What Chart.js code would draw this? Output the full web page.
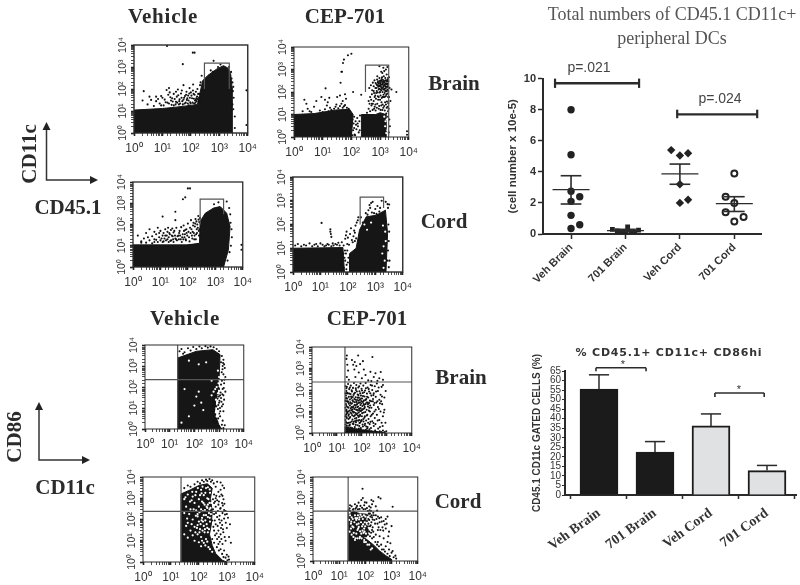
<!DOCTYPE html>
<html>
<head>
<meta charset="utf-8">
<title>CD45.1 CD11c figure</title>
<script src="https://cdn.jsdelivr.net/npm/chart.js@4"></script>
<style>
  html, body { margin: 0; padding: 0; background: #fff; }
  #page { position: relative; width: 800px; height: 585px; overflow: hidden; filter: blur(0.45px); }
  #page canvas { position: absolute; }
  .txt { position: absolute; white-space: nowrap; color: #2b2b2b; transform: translate(-50%, -50%); }
  .big { font: bold 21px "Liberation Serif", serif; }
</style>
</head>
<body>
<div id="page">
  <svg width="800" height="585" style="position:absolute;left:0;top:0">
    <g fill="none" stroke="#333" stroke-width="1.5">
      <path d="M46.5 128V180H92" />
      <path d="M39 408V460H85" />
    </g>
    <g fill="#222">
      <path d="M46.5 122l-4 8h8z" />
      <path d="M98 180l-8 -4v8z" />
      <path d="M39 402l-4 8h8z" />
      <path d="M90 460l-8 -4v8z" />
    </g>
  </svg>
</div>
<script>
// tick labels and categories
const decadeLabels = ['10⁰', '10¹', '10²', '10³', '10⁴'];
const groupNames = ['Veh Brain', '701 Brain', 'Veh Cord', '701 Cord'];

// ---- flow plots, values (dense areas kept as outlines) ----
const massA = [[1,1],[1,11],[10,13],[30,15],[100,18],[170,20],[200,50],[260,240],[400,420],[800,800],[1400,1150],[2000,900],[2500,500],[2800,120],[2800,1],[1,1]];
const gateA = [[300,100],[300,1500],[2240,1500],[2240,100]];
const dotsA = [[3,20],[4,32],[2.2,80],[6,28],[8,22],[9,48],[10,40],[12,33],[14,90],[15,24],[16,55],[18,70],[20,30],[22,38],[25,60],[25,18],[30,26],[32,45],[35,95],[38,20],[40,34],[45,62],[50,28],[55,150],[58,40],[60,22],[70,75],[72,32],[80,50],[85,18],[90,110],[95,25],[110,38],[120,160],[125,60],[130,22],[140,30],[150,75],[165,45],[170,100],[190,28],[200,60],[210,150],[220,200],[150,32],[100,70],[52,1350],[117,4500],[135,4500],[14.5,9000],[630,1900],[240,400],[3100,125],[3500,5.6],[3500,1.7],[9000,87],[9000,2.3],[2900,200],[2700,300],[3000,80],[3200,40],[2900,20],[3100,12],[2600,600],[2200,1000],[900,1000],[1100,1300],[600,600],[500,700],
  [5,17],[7,35],[11,18],[13,25],[17,22],[19,42],[21,19],[23,27],[27,35],[29,20],[33,24],[36,52],[39,28],[42,22],[47,40],[52,20],[55,33],[62,48],[66,24],[75,38],[78,22],[83,30],[88,62],[92,40],[98,22],[105,50],[115,24],[118,85],[128,36],[135,55],[145,24],[155,38],[160,28],[172,35],[180,60],[195,40],[205,25],[68,55],[48,85],[30,75],[17,110],[9,18],[6,45],[2,30],[3.5,45]];

const massB1 = [[1,1],[1,10],[5,11],[30,16],[87,17],[115,10],[100,1],[1,1]];
const massB2 = [[224,1],[224,10],[700,10],[1000,12],[1600,10],[1600,1],[224,1]];
const gateB = [[310,100],[310,1550],[2000,1550],[2000,1]];
const dotsB = [[2,14],[3,18],[4,13],[5,22],[6,40],[2.3,45],[2.7,30],[3.5,14],[8,15],[10,13],[12,17],[14,25],[16,14],[18,20],[20,16],[25,18],[28,22],[30,28],[35,19],[40,24],[45,30],[50,20],[55,23],[60,26],[70,20],[80,18],[9,60],[12,45],[15,35],[17,55],[12.6,145],[32,60],[40,70],[50,40],[60,80],[65,50],[100,5000],[76,4300],[55,2750],[51,1950],[45,790],[47,800],[42,257],[115,100],[220,75],[2500,130],[3700,100],[8700,1.8],[8700,1.25],[95,1.5],[100,3],[110,6],[115,2],[120,4],[125,8],[130,1.3],[140,5],[150,2.2],[160,7],[170,3],[180,1.6],[190,5],[200,9],[105,9],[135,1.2],[165,4],[125,2.5],[145,3.5],[110,1.2],[195,2],[350,12],[400,18],[450,14],[500,25],[550,16],[600,40],[650,22],[700,15],[800,30],[900,18],[1000,45],[1100,25],[1200,16],[1300,60],[1500,35],[1700,20],[1900,14],[400,40],[450,60],[520,80],[600,110],[680,70],[750,150],[820,95],[900,60],[1000,200],[1100,120],[1200,280],[1300,170],[1450,90],[1600,240],[1800,130],[1900,60],[850,300],[950,420],[1050,250],[1150,380],[1250,150],[1350,500],[1500,320],[1700,600],[1900,420],[700,250],[600,180],[800,500],[1100,800],[1300,1200],[1600,1000],[1800,1300],[950,1400],[1200,700],[1400,850],[1000,100],[1150,55],[1400,130],[1550,180],[1750,300],[1650,75],[750,220],[880,200],[1020,320],[1240,230],[1380,260],[1480,210],[1580,150],[1680,110],[1850,210],[1950,300],[930,140],[1070,170],[520,30],[1300,20],[1650,11],[1900,8],[2100,6],[2200,3],[2000,1.6],
  [420,150],[480,200],[530,120],[560,260],[620,90],[640,330],[690,150],[720,50],[770,110],[790,360],[840,65],[860,170],[910,240],[960,95],[990,310],[1040,70],[1080,210],[1130,150],[1170,450],[1220,100],[1270,340],[1320,75],[1370,190],[1420,270],[1470,140],[1520,420],[1570,65],[1620,330],[1720,170],[1780,85],[1830,350],[1880,240],[1920,110],[650,60],[730,90],[790,200],[840,260],[900,130],[970,180],[1010,260],[1060,130],[1110,320],[1180,210],[1230,60],[1290,130],[1340,300],[1400,210],[1440,60],[1510,110],[1600,110],[1700,240],[1760,220],[1820,170],[1870,300],[1930,170],[430,30],[490,45],[560,30],[620,18],[690,28],[770,20],[860,45],[930,24],[1040,16],[1120,35],[1230,28],[1390,24],[1460,15],[1600,28],[1740,38],[1840,22],[1940,32],[1990,18],[2050,60],[2150,150],[2050,450],[2300,40]];
const specksB = [[1500,3],[1700,6],[1400,8],[1800,2],[1650,1.5],[1550,5]];

const massC = [[1,1],[1,11],[92,11],[265,13],[280,138],[430,340],[860,590],[1500,700],[2600,340],[3450,80],[3000,6.5],[2000,1],[1,1]];
const gateC = [[280,100],[280,1550],[2000,1550],[2000,300]];
const dotsC = [[1.5,30],[2,16],[2.5,22],[3,14],[3,40],[4,18],[4,60],[5,28],[5,13],[6,20],[6,45],[7,35],[8,15],[8,70],[9,25],[10,18],[10,50],[12,30],[12,15],[13,40],[14,22],[15,60],[16,18],[17,30],[18,45],[20,15],[20,25],[22,35],[24,55],[25,18],[28,28],[30,15],[30,42],[35,22],[38,70],[40,18],[45,30],[50,50],[55,20],[60,15],[65,35],[70,90],[75,25],[80,55],[85,18],[90,40],[100,110],[110,25],[120,70],[130,160],[140,30],[150,45],[160,120],[170,20],[180,80],[190,180],[200,35],[210,60],[220,100],[240,250],[250,50],[260,130],[270,30],[66,1550],[80,1900],[120,5000],[100,5000],[12,235],[35,400],[35,160],[9000,11],[9000,6.5],[3200,600],[3600,120],[3900,60],[4000,25],[3700,10],[3300,5],[2800,2],[3500,300],[2600,1200],[1300,1100],[900,900],
  [2,14],[3.5,25],[6,15],[7,19],[9,40],[11,22],[13,16],[15,30],[18,20],[19,70],[21,40],[23,17],[26,30],[27,65],[29,20],[32,50],[34,30],[37,20],[42,28],[47,20],[48,40],[52,30],[57,75],[62,25],[68,20],[72,50],[78,35],[83,20],[88,60],[95,30],[105,45],[115,16],[125,40],[135,60],[145,22],[155,90],[165,40],[175,30],[185,110],[195,20],[205,140],[215,40],[230,70],[245,170],[255,30],[265,60],[275,200]];

const massD1 = [[1,1],[1,10],[66,10.7],[75,1],[1,1]];
const massD2 = [[115,1],[115,6],[200,10],[265,58],[465,210],[1070,245],[2340,400],[2800,42],[2450,1],[115,1]];
const gateD = [[280,100],[280,1420],[2000,1420],[2000,500]];
const dotsD = [[1.2,13],[1.5,15],[2,12],[2.5,14],[3,13],[4,16],[5,12],[6,14],[7,15],[8,12],[10,16],[11,117],[12,14],[14,12],[16,13],[18,15],[20,14],[25,12],[28,16],[30,13],[35,15],[40,14],[45,17],[50,13],[23,63],[23,50],[24,40],[25,30],[60,18],[70,13],[80,25],[85,35],[90,50],[95,15],[100,28],[110,14],[120,40],[130,70],[140,22],[150,18],[160,32],[170,55],[180,45],[190,90],[200,26],[210,120],[230,150],[240,200],[180,20],[70,1.5],[80,3],[85,6],[90,2],[75,4],[95,8],[100,2.5],[78,8],[88,1.3],[70,6],[60,1.2],[55,2],[105,4],[65,3],[615,660],[700,800],[650,500],[800,900],[560,400],[1000,450],[1200,600],[1400,350],[450,300],[520,260],[900,300],[1100,280],[1500,500],[2800,720],[3200,700],[2900,500],[2400,900],[1700,1000],[750,320],[350,120],[300,200],[3000,100],[3200,50],[3100,20],[2900,8],[3300,3],[3100,1.6],[2800,3]];
const specksD = [[1800,6],[2000,12],[2200,3],[2400,20],[2000,1.5],[700,120],[500,60],[400,100],[2300,50],[1900,90]];

const massE = [[21,1],[21,2400],[120,5000],[560,6000],[1100,3500],[1000,224],[850,60],[700,15],[650,6],[800,3],[1000,1.5],[1300,1],[21,1]];
const crossE = [[21,1],[21,10000]];
const crossE2 = [[1,224],[10000,224]];
const dotsE = [[25,5000],[30,6500],[40,4500],[55,7000],[70,5500],[90,8000],[120,6500],[160,8500],[200,7000],[280,8800],[350,7500],[450,8600],[600,7800],[800,6500],[1000,5000],[35,3800],[1300,3000],[1500,2000],[1400,1000],[1700,800],[1500,400],[1800,300],[1300,200],[1600,150],[1400,80],[1800,60],[1500,40],[1200,30],[1600,25],[1000,18],[1300,12],[900,9],[1500,7],[1100,4],[1400,2.5],[1700,1.5],[700,14],[800,35],[600,20],[1000,80],[1150,55],[1200,130],
  [550,12],[620,8],[680,18],[720,40],[780,12],[830,60],[870,28],[930,14],[980,35],[1040,22],[1090,10],[640,35],[700,5],[760,3],[850,2.2],[920,3.2],[1010,5.5],[1120,7],[1250,20],[1350,45],[1450,15],[1550,90],[1650,220],[1280,500],[1380,700],[1200,1500],[1450,1400],[1600,1200],[1100,40],[950,90],[880,45],[760,70],[680,12],[560,7],[600,2.4],[700,2],[1000,1.4],[1300,1.6],[1500,1.1]];
const specksE = [[40,80],[150,60],[120,35],[190,18],[100,13],[60,4],[30,2],[300,1500],[150,1200],[60,1800],[230,8],[500,200],[700,80],[800,100],[900,50],[600,60],[750,25],[850,20],[900,6],[800,4],[500,40],[950,150],[1050,200],[1000,300],[900,600]];

const massF = [[21,1],[21,2],[40,1.6],[100,1.4],[300,1.2],[800,1.05],[800,1],[21,1]];
const crossF = [[21,1],[21,10000]];
const crossF2 = [[1,235],[10000,235]];
const dotsF = [[22,1.1],[24,1.5],[25,2.2],[26,1.2],[28,1.8],[30,3],[31,1.1],[33,2.4],[35,1.4],[37,1.2],[39,3.4],[41,1.7],[44,1.1],[46,2.6],[49,1.3],[52,1.9],[55,1.1],[58,3.2],[61,1.5],[65,1.2],[68,2.3],[72,1.1],[76,1.6],[80,2.9],[85,1.2],[90,1.5],[95,3.8],[100,1.1],[110,2],[118,1.3],[125,1.1],[135,2.7],[145,1.4],[155,1.1],[170,1.9],[185,1.2],[200,1.5],[220,3.3],[240,1.2],[270,1.1],[300,2.1],[340,1.3],[400,1.1],[450,1.6],[520,1.2],[600,1.1],[700,1.3],[820,1.1],[950,1.2],
  [22,4],[23,7],[24,12],[23,22],[25,5],[26,9],[27,16],[28,28],[29,4.5],[30,7.5],[32,11],[33,19],[34,5.5],[36,14],[38,8],[40,24],[42,4.2],[43,10],[45,17],[47,6],[50,13],[52,27],[54,3.6],[56,8.5],[58,20],[60,5],[63,12],[66,16],[70,6.5],[72,25],[75,9],[78,4],[82,14],[85,7],[88,20],[92,3.5],[96,11],[100,6],[105,18],[110,28],[115,4.5],[120,9],[125,14],[132,6],[140,22],[148,3.8],[155,12],[165,7],[175,17],[185,4.5],[195,25],[210,10],[225,6],[240,15],[260,3.5],[280,8],[300,20],[330,5],[360,12],[400,7],[440,16],[500,4],[560,10],[620,3],[700,6],
  [22,32],[23,55],[24,90],[25,140],[26,40],[27,70],[28,190],[30,48],[31,110],[33,36],[35,65],[36,160],[38,42],[40,85],[42,33],[44,125],[46,58],[48,210],[50,38],[53,75],[56,46],[58,100],[60,170],[64,34],[68,62],[72,130],[76,44],[80,88],[84,36],[88,200],[92,55],[97,115],[102,40],[108,72],[114,160],[120,32],[128,50],[135,95],[142,210],[150,38],[160,68],[170,130],[180,45],[195,85],[210,32],[225,170],[240,55],[260,100],[280,38],[300,70],[330,150],[360,48],[400,200],[440,90],[500,35],[560,60],[620,140],[700,170],[800,45],[800,12],[650,22],[900,90],
  [25,4000],[24,2800],[26,1500],[28,800],[25,400],[30,300],[40,2500],[45,1500],[50,900],[55,400],[60,1300],[52,2000],[75,650],[85,1600],[100,350],[110,2200],[120,900],[140,500],[71,4000],[265,3400],[220,700],[300,400],[570,690],[500,350],[700,300],[180,280],[240,260],[350,600],[420,270],
  [23,1.3],[27,2.9],[29,6.3],[31,2.2],[34,3.1],[36,1.8],[38,11.5],[41,6.7],[43,2.7],[44,15],[47,3.3],[48,9.4],[51,1.6],[53,4.7],[55,15.5],[57,2.4],[59,7.2],[62,3.9],[64,22],[67,1.4],[69,11],[71,3.7],[74,5.6],[77,13],[79,2.1],[83,6.2],[86,3.1],[89,10.5],[91,1.7],[94,31],[98,4],[103,8.4],[107,2.5],[112,13],[116,3.4],[122,20],[127,5.2],[130,2.3],[138,9.5],[143,35],[150,2],[158,6.5],[163,1.6],[172,26],[178,3],[190,11],[205,2.6],[215,19],[232,1.7],[250,7],[275,30],[290,2.9],[320,10],[350,2.6],[380,26],[430,3.8],[480,13],[530,1.9],[590,30],[680,2.1],[760,9],[880,3],
  [24,3],[25,7.8],[24,18],[26,29],[23,42],[26,72],[24,120],[27,30],[28,10],[29,15],[30,23],[31,68],[32,5],[33,130],[34,27],[35,9],[37,50],[37,23],[39,16],[39,96],[41,12],[43,47],[45,29],[46,9],[49,68],[51,20],[52,6.6],[55,35],[57,120],[59,12],[61,28],[63,85],[65,8],[67,44],[70,17],[73,58],[75,32],[78,150],[81,11],[83,26],[86,70],[90,14],[93,40],[96,24],[101,95],[104,12],[111,52],[118,22],[123,78],[131,16],[137,34],[145,120],[153,26],[162,48],[176,22],[188,110],[200,15],[218,70],[235,30],[255,160],[290,58],[320,25],[370,85],[420,30],[470,130],[530,24],[640,50],[22,70],[22,15],[22,6],[22,2.5],[22,150],[23,3.2],[23,11],[23,30],[24,5.5],[24,40],[25,10],[25,70]];

const massG = [[23,1],[23,1600],[50,2500],[100,4000],[200,4800],[300,3000],[260,1000],[300,240],[280,60],[240,20],[300,6],[400,2.5],[700,1.2],[1000,1],[23,1]];
const crossG = [[23,1],[23,10000]];
const crossG2 = [[1,240],[10000,240]];
const dotsG = [[30,3000],[40,4000],[50,3500],[70,4500],[90,6000],[110,5000],[130,7000],[150,6000],[180,7500],[200,6500],[240,8000],[270,6000],[300,7000],[340,5000],[400,3500],[450,6000],[600,5500],[700,4000],[800,3000],[600,2500],[500,2000],[350,1500],[400,1000],[350,600],[450,800],[550,1200],[700,1300],[400,400],[500,500],[600,350],[800,280],[900,250],[700,200],[350,180],[450,130],[550,150],[650,90],[800,110],[1100,120],[1300,60],[1000,40],[400,60],[500,30],[350,30],[600,20],[750,25],[450,12],[900,10],[1200,15],[1400,8],[700,7],[500,7],[600,4],[800,3.5],[1000,2.2],[900,1.6],[1200,1.3],[300,12],[350,8],
  [320,900],[380,700],[420,1300],[480,250],[520,700],[580,320],[640,1500],[680,600],[720,450],[760,900],[820,550],[860,170],[920,70],[1000,180],[370,90],[410,200],[470,50],[530,100],[570,70],[620,40],[680,55],[730,35],[840,15],[380,18],[430,22],[520,15],[560,9],[640,12],[330,45],[300,90],[320,300],[440,5],[520,3.5],[680,2.4],[760,1.7],[1050,1.2],[1150,1.8]];
const specksG = [[30,900],[40,1500],[60,1200],[80,2000],[100,900],[120,2500],[150,1400],[180,3000],[200,1000],[250,1800],[70,600],[100,400],[130,700],[160,500],[200,350],[240,600],[50,300],[30,200],[90,180],[140,250],[180,160],[230,200],[60,100],[100,80],[130,120],[170,90],[210,130],[250,80],[40,70],[70,45],[110,35],[150,50],[190,60],[230,35],[90,20],[60,18],[120,15],[160,25],[180,12],[130,10],[100,8.5],[70,10],[50,30],[35,50],[30,20],[150,8],[200,9],[220,5],[170,6],[120,5.5],[250,4],[300,3],[90,140],[120,300],[45,180],[260,350],[210,500],[170,1800],[110,1400],[55,800],[35,400],[80,270],[150,160],[140,80],[90,55],[115,60],[200,40],[75,25],[40,14],
  [33,1100],[48,700],[65,300],[78,150],[105,220],[125,90],[145,600],[165,280],[190,400],[220,900],[240,300],[270,180],[280,600],[38,110],[55,60],[85,40],[105,25],[135,30],[165,35],[210,25],[245,120],[58,2000],[92,3000],[135,3500],[210,3300],[245,2600],[75,1400],[125,1700]];

const massH1 = [[22,1],[22,12],[40,16],[80,14],[120,10],[200,6],[350,3],[600,1.8],[1000,1.2],[1000,1],[22,1]];
const massH2 = [[22,12],[22,280],[35,230],[60,180],[110,170],[100,60],[130,30],[110,14],[40,16],[22,12]];
const crossH = [[22,1],[22,10000]];
const crossH2 = [[1,235],[10000,235]];
const dotsH = [[25,320],[30,400],[35,300],[40,500],[45,350],[55,600],[60,300],[70,800],[80,1000],[90,450],[100,300],[110,600],[78,2750],[140,400],[160,350],[170,800],[180,500],[200,700],[316,1100],[380,950],[250,400],[280,250],[1100,380],[150,180],[180,120],[200,200],[170,70],[220,90],[250,150],[300,130],[350,70],[400,120],[500,80],[450,40],[600,100],[700,130],[1000,46],[600,35],[800,25],[300,30],[200,25],[150,45],[130,100],[250,18],[350,15],[500,12],[700,8],[400,6],[600,5],[800,3.5],[1000,2.5],[1400,1.8],[500,3.5],[300,8],[150,15],[180,30],[130,60],[120,150],[140,90],[160,50],[1500,1.3],
  [26,450],[33,270],[42,310],[48,420],[52,290],[65,420],[75,340],[85,290],[95,620],[115,330],[125,240],[135,180],[145,260],[155,130],[165,240],[175,150],[190,95],[210,150],[235,60],[265,100],[290,60],[320,40],[340,110],[375,30],[420,75],[480,28],[550,55],[650,60],[750,15],[900,7],[1100,3],[1200,1.5],[180,12],[210,14],[240,8],[280,6],[330,5],[430,3.5],[560,2.8],[700,2.2],[850,1.7],[125,18],[140,25],[165,22],[190,40],[115,80],[125,45]];
const specksH = [[25,200],[30,120],[28,60],[35,40],[40,150],[45,90],[50,30],[55,60],[60,120],[70,20],[75,45],[80,100],[90,35],[95,70],[25,25],[30,18],[45,20],[65,160],[38,70],[85,22],[100,130],[105,20],[33,100],[52,150],[24,90],[78,28],[60,12],[120,6],[90,8],[160,3.5],[40,10],[28,35],[56,42],[48,110],
  [26,150],[29,75],[32,45],[36,22],[42,110],[47,55],[53,35],[58,95],[63,26],[68,70],[73,130],[82,55],[88,150],[93,25],[98,45],[30,240],[62,14],[72,12],[50,12],[35,14],[90,10],[105,8],[140,6],[180,4],[42,12]];

// ---- dot plot, total numbers ----
const vehBrain = [[1,8.0],[1,5.1],[1,2.75],[1,2.1],[1.16,2.4],[1,1.2],[1.16,0.6],[1,0.35]];
const cepBrain = [[1.76,0.3],[1.85,0.2],[1.93,0.15],[2.01,0.05],[2.04,0.45],[2.11,0.15],[2.17,0.12],[2.24,0.25]];
const vehCord = [[2.84,5.4],[3,5.05],[3.15,5.2],[3,3.2],[3,2.0],[3.15,2.2]];
const cepCord = [[4,3.9],[3.84,2.4],[4,2.0],[3.84,1.4],[4,0.8],[4.17,1.1]];
const dotMeans = [2.85, 0.22, 3.87, 1.95];
const dotSemHigh = [3.75, 0.3, 4.5, 2.4];
const dotSemLow = [1.93, 0.15, 3.2, 1.45];

// ---- bar chart, CD86hi ----
const barValues = [55.5, 22.5, 36.2, 12.8];
const barErrors = [63, 28, 42.5, 15.5];

const page = document.getElementById('page');

function addText(text, x, y, css, cls) {
  const d = document.createElement('div');
  d.className = 'txt ' + (cls || '');
  d.textContent = text;
  d.style.left = x + 'px';
  d.style.top = y + 'px';
  d.style.cssText += css || '';
  page.appendChild(d);
}

// canvas sized so the plot area lands on the given box
function addCanvas(box, m) {
  const c = document.createElement('canvas');
  c.width = box.right - box.left + m.l + m.r;
  c.height = box.bottom - box.top + m.t + m.b;
  c.style.left = (box.left - m.l) + 'px';
  c.style.top = (box.top - m.t) + 'px';
  page.appendChild(c);
  return c;
}

const pairs = a => a.map(p => ({ x: p[0], y: p[1] }));

const frame = {
  id: 'frame',
  afterDatasetsDraw(chart, args, opts) {
    const a = chart.chartArea, ctx = chart.ctx;
    ctx.save();
    ctx.strokeStyle = '#2b2b2b';
    ctx.lineWidth = opts.width || 1;
    ctx.strokeRect(a.left, a.top, a.right - a.left, a.bottom - a.top);
    ctx.restore();
  }
};

function flowPlot(p) {
  const m = { l: 32, t: 10, r: 14, b: 26 };
  const ds = [];
  (p.lines || []).forEach(l => ds.push({ data: pairs(l), showLine: true, borderColor: '#555', borderWidth: 1.2, pointRadius: 0, tension: 0 }));
  if (p.specks) ds.push({ data: pairs(p.specks), pointRadius: 1.1, backgroundColor: '#fff', borderWidth: 0 });
  ds.push({ data: pairs(p.dots), pointRadius: 1.05, backgroundColor: '#111', borderWidth: 0 });
  p.masses.forEach(mass => ds.push({ data: pairs(mass), showLine: true, fill: 'shape', backgroundColor: '#161616', borderColor: '#161616', borderWidth: 1, pointRadius: 0, tension: 0 }));
  const logAxis = extra => Object.assign({
    type: 'logarithmic', min: 1, max: 10000,
    border: { display: false },
    grid: { drawOnChartArea: false, tickLength: 3, tickColor: '#222', tickWidth: c => c.tick && c.tick.major ? 1.6 : 0.8 }
  }, extra);
  const tickText = (v, i, ticks) => ticks[i].major ? decadeLabels[Math.round(Math.log10(v))] : '';
  new Chart(addCanvas(p.box, m), {
    type: 'scatter',
    data: { datasets: ds },
    plugins: [frame],
    options: {
      responsive: false,
      animation: false,
      events: [],
      layout: { padding: { top: m.t, right: m.r, left: 0, bottom: 0 } },
      plugins: { legend: { display: false }, tooltip: { enabled: false }, frame: { width: p.edge } },
      scales: {
        x: logAxis({
          afterFit: s => { s.height = m.b; },
          ticks: { autoSkip: false, maxRotation: 0, minRotation: 0, padding: 5, color: '#333', font: { family: 'Liberation Sans', size: 12 }, callback: tickText }
        }),
        y: logAxis({
          afterFit: s => { s.width = m.l; },
          ticks: { autoSkip: false, minRotation: 90, maxRotation: 90, crossAlign: 'center', padding: 0, color: '#333', font: { family: 'Liberation Sans', size: 10.5 }, callback: tickText }
        })
      }
    }
  });
}

flowPlot({ box: { left: 134, right: 248, top: 45, bottom: 133 }, edge: 1.4, masses: [massA], dots: dotsA, lines: [gateA] });
flowPlot({ box: { left: 294, right: 409, top: 47, bottom: 137 }, edge: 1, masses: [massB1, massB2], dots: dotsB, specks: specksB, lines: [gateB] });
flowPlot({ box: { left: 133, right: 243, top: 182, bottom: 267 }, edge: 1.3, masses: [massC], dots: dotsC, lines: [gateC] });
flowPlot({ box: { left: 293, right: 403, top: 177, bottom: 272 }, edge: 1.4, masses: [massD1, massD2], dots: dotsD, specks: specksD, lines: [gateD] });
flowPlot({ box: { left: 145, right: 244, top: 345, bottom: 429 }, edge: 1, masses: [massE], dots: dotsE, specks: specksE, lines: [crossE, crossE2] });
flowPlot({ box: { left: 312, right: 412, top: 347, bottom: 433 }, edge: 1, masses: [massF], dots: dotsF, lines: [crossF, crossF2] });
flowPlot({ box: { left: 143, right: 255, top: 477, bottom: 562 }, edge: 1, masses: [massG], dots: dotsG, specks: specksG, lines: [crossG, crossG2] });
flowPlot({ box: { left: 313, right: 418, top: 477, bottom: 561 }, edge: 1, masses: [massH1, massH2], dots: dotsH, specks: specksH, lines: [crossH, crossH2] });

const segment = (x1, y1, x2, y2, w, col) => ({
  data: [{ x: x1, y: y1 }, { x: x2, y: y2 }], showLine: true, clip: false,
  borderColor: col || '#2b2b2b', borderWidth: w || 1.5, pointRadius: 0, tension: 0
});

const categoryTicks = s => { s.ticks = groupNames.map((n, i) => ({ value: i + 1 })); };

// dot plot
(function () {
  const m = { l: 40, t: 6, r: 6, b: 60 };
  const box = { left: 543, right: 761, top: 76, bottom: 234 };
  const ds = [];
  dotMeans.forEach((v, i) => {
    const x = i + 1;
    ds.push(segment(x - 0.34, v, x + 0.34, v, 1.3));
    ds.push(segment(x - 0.19, dotSemHigh[i], x + 0.19, dotSemHigh[i], 1.6));
    ds.push(segment(x - 0.19, dotSemLow[i], x + 0.19, dotSemLow[i], 1.6));
    ds.push(segment(x, dotSemLow[i], x, dotSemHigh[i], 1.6));
  });
  // p-value brackets
  ds.push(segment(0.706, 9.7, 2.25, 9.7, 2.4));
  ds.push(segment(0.706, 9.4, 0.706, 10, 2.2));
  ds.push(segment(2.25, 9.4, 2.25, 10, 2.2));
  ds.push(segment(2.95, 7.7, 4.42, 7.7, 2.4));
  ds.push(segment(2.95, 7.45, 2.95, 8, 2.2));
  ds.push(segment(4.42, 7.45, 4.42, 8, 2.2));
  ds.push({ data: pairs(vehBrain), pointStyle: 'circle', pointRadius: 3.7, backgroundColor: '#222', borderWidth: 0 });
  ds.push({ data: pairs(cepBrain), pointStyle: 'rect', pointRadius: 3.4, backgroundColor: '#222', borderWidth: 0 });
  ds.push({ data: pairs(vehCord), pointStyle: 'rectRot', pointRadius: 4.2, backgroundColor: '#222', borderWidth: 0 });
  ds.push({ data: pairs(cepCord), pointStyle: 'circle', pointRadius: 3, backgroundColor: '#fff', borderColor: '#222', borderWidth: 2 });
  new Chart(addCanvas(box, m), {
    type: 'scatter',
    data: { datasets: ds },
    options: {
      responsive: false,
      animation: false,
      events: [],
      layout: { padding: { top: m.t, right: m.r, left: 0, bottom: 0 } },
      plugins: { legend: { display: false }, tooltip: { enabled: false } },
      scales: {
        x: {
          type: 'linear', min: 0.485, max: 4.49,
          afterBuildTicks: categoryTicks,
          afterFit: s => { s.height = m.b; },
          border: { color: '#2b2b2b', width: 2 },
          grid: { drawOnChartArea: false, tickLength: 5, tickColor: '#2b2b2b', tickWidth: 1.5 },
          ticks: { autoSkip: false, minRotation: 45, maxRotation: 45, padding: 2, color: '#333', font: { family: 'Liberation Sans', size: 11, weight: 'bold' }, callback: v => groupNames[v - 1] }
        },
        y: {
          min: 0, max: 10,
          afterFit: s => { s.width = m.l; },
          border: { color: '#2b2b2b', width: 2 },
          grid: { drawOnChartArea: false, tickLength: 5, tickColor: '#2b2b2b', tickWidth: 1.5 },
          ticks: { stepSize: 2, padding: 2, color: '#333', font: { family: 'Liberation Sans', size: 11, weight: 'bold' } },
          title: { display: true, text: '(cell number x 10e-5)', color: '#333', padding: { top: 3, bottom: 0 }, font: { family: 'Liberation Sans', size: 11.5, weight: 'bold' } }
        }
      }
    }
  });
})();

// bar chart
(function () {
  const m = { l: 35, t: 28, r: 4, b: 72 };
  const box = { left: 565, right: 796, top: 371, bottom: 495 };
  const ds = [];
  barErrors.forEach((v, i) => {
    const x = i + 1;
    ds.push(segment(x, barValues[i], x, v, 1.5));
    ds.push(segment(x - 0.18, v, x + 0.18, v, 1.5));
  });
  ds.push(segment(0.946, 66.7, 1.84, 66.7, 1.6));
  ds.push(segment(0.946, 64.9, 0.946, 66.7, 1.6));
  ds.push(segment(1.84, 64.9, 1.84, 66.7, 1.6));
  ds.push(segment(3.07, 53.5, 3.95, 53.5, 1.6));
  ds.push(segment(3.07, 51.4, 3.07, 53.5, 1.6));
  ds.push(segment(3.95, 51.4, 3.95, 53.5, 1.6));
  ds.forEach(d => { d.type = 'scatter'; });
  ds.push({
    type: 'bar',
    data: barValues.map((v, i) => ({ x: i + 1, y: v })),
    backgroundColor: ['#1b1b1b', '#1b1b1b', '#e0e1e3', '#e0e1e3'],
    borderColor: '#1b1b1b',
    borderWidth: 2,
    barThickness: 38
  });
  new Chart(addCanvas(box, m), {
    data: { datasets: ds },
    options: {
      responsive: false,
      animation: false,
      events: [],
      layout: { padding: { top: m.t, right: m.r, left: 0, bottom: 0 } },
      plugins: { legend: { display: false }, tooltip: { enabled: false } },
      scales: {
        x: {
          type: 'linear', min: 0.393, max: 4.518, offset: false,
          afterBuildTicks: categoryTicks,
          afterFit: s => { s.height = m.b; },
          border: { color: '#2b2b2b', width: 2 },
          grid: { drawOnChartArea: false, tickLength: 4, tickColor: '#2b2b2b', tickWidth: 1.5 },
          ticks: { autoSkip: false, minRotation: 36, maxRotation: 36, padding: 6, color: '#333', font: { family: 'Liberation Serif', size: 14, weight: 'bold' }, callback: v => groupNames[v - 1] }
        },
        y: {
          min: 0, max: 65,
          afterFit: s => { s.width = m.l; },
          border: { color: '#2b2b2b', width: 2 },
          grid: { drawOnChartArea: false, tickLength: 3, tickColor: '#2b2b2b', tickWidth: 1.2 },
          ticks: { stepSize: 5, autoSkip: false, padding: 1, color: '#333', font: { family: 'Liberation Sans', size: 10 } },
          title: { display: true, text: 'CD45.1 CD11c GATED CELLS (%)', color: '#333', padding: { top: 1, bottom: 0 }, font: { family: 'Liberation Sans', size: 10, weight: 'bold' } }
        }
      }
    }
  });
})();

// panel headings
addText('Vehicle', 163, 16, 'letter-spacing:.8px;', 'big');
addText('CEP-701', 345, 16, '', 'big');
addText('Brain', 454, 83, '', 'big');
addText('Cord', 444, 221, '', 'big');
addText('CD45.1', 68, 207, '', 'big');
addText('CD11c', 29, 154, 'transform:translate(-50%,-50%) rotate(-90deg);', 'big');
addText('Vehicle', 185, 318, 'letter-spacing:.8px;', 'big');
addText('CEP-701', 367, 318, '', 'big');
addText('Brain', 461, 377, '', 'big');
addText('Cord', 458, 501, '', 'big');
addText('CD11c', 65, 487, '', 'big');
addText('CD86', 14, 437, 'transform:translate(-50%,-50%) rotate(-90deg);', 'big');

addText('Total numbers of CD45.1 CD11c+', 672, 14, 'font:18px "Liberation Serif",serif;color:#555;');
addText('peripheral DCs', 672, 38, 'font:18px "Liberation Serif",serif;color:#555;');
addText('p=.021', 589, 67, 'font:14px "Liberation Sans",sans-serif;color:#444;');
addText('p=.024', 720, 98, 'font:14px "Liberation Sans",sans-serif;color:#444;');
addText('% CD45.1+ CD11c+ CD86hi', 669, 352, 'font:bold 11px "DejaVu Sans",sans-serif;color:#333;letter-spacing:.8px;');
addText('*', 623, 364, 'font:11px "Liberation Sans",sans-serif;color:#333;');
addText('*', 739, 389, 'font:11px "Liberation Sans",sans-serif;color:#333;');
</script>
</body>
</html>
